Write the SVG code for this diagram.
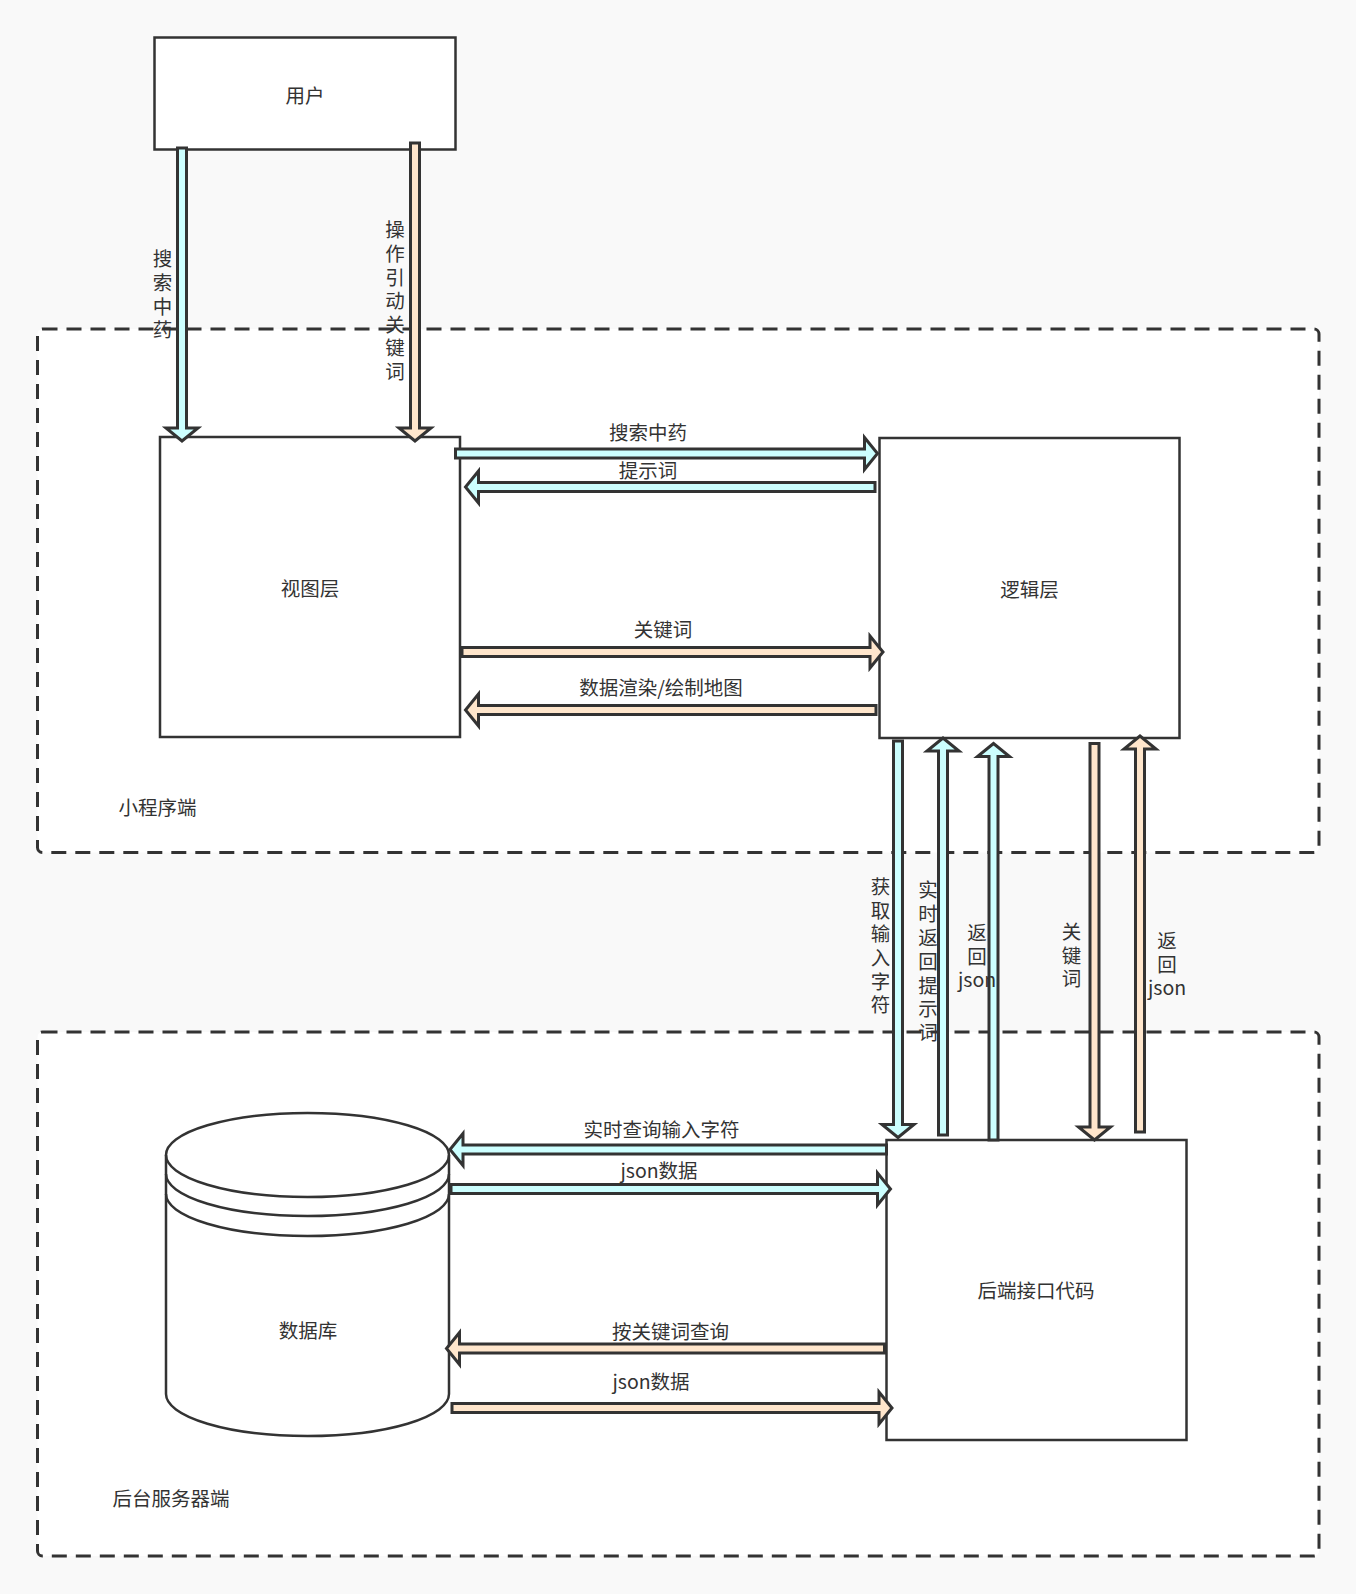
<svg xmlns="http://www.w3.org/2000/svg" width="1356" height="1594" viewBox="0 0 1356 1594">
<style>
text{font-family:"Noto Sans CJK SC","Noto Sans",sans-serif;font-size:19.5px;fill:#333;text-anchor:middle;dominant-baseline:central}
text.v{writing-mode:vertical-rl;text-orientation:upright;text-anchor:start;letter-spacing:4.1px}
.box{fill:#fff;stroke:#333;stroke-width:2.5}
.zone{fill:#fff;stroke:#333;stroke-width:3;stroke-dasharray:15 9}
.c{fill:#ccffff;stroke:#333;stroke-width:3;stroke-linejoin:miter}
.p{fill:#ffe6cc;stroke:#333;stroke-width:3;stroke-linejoin:miter}
</style>
<rect width="1356" height="1594" fill="#f9f9f9"/>
<g id="zone-miniprogram">
<rect class="zone" x="37.5" y="329" width="1281.5" height="523.5" rx="5"/>
<text x="157.5" y="806.5">小程序端</text>
</g>
<g id="zone-server">
<rect class="zone" x="37.5" y="1032" width="1281.5" height="524" rx="5"/>
<text x="171" y="1497.5">后台服务器端</text>
</g>
<g id="node-user">
<rect class="box" x="154.5" y="37.5" width="301" height="112"/>
<text x="305" y="94">用户</text>
</g>
<g id="node-view">
<rect class="box" x="160" y="437" width="300" height="300"/>
<text x="310" y="587">视图层</text>
</g>
<g id="node-logic">
<rect class="box" x="879.5" y="438" width="300" height="300"/>
<text x="1029.5" y="588">逻辑层</text>
</g>
<g id="node-backend">
<rect class="box" x="886.5" y="1140" width="300" height="300"/>
<text x="1036" y="1289.5">后端接口代码</text>
</g>
<g id="node-database">
<path class="box" d="M166,1155 L166,1394 A141.5,42 0 0 0 449,1394 L449,1155 A141.5,42 0 0 0 166,1155 Z"/>
<path fill="none" stroke="#333" stroke-width="2.5" d="M166,1155 A141.5,42 0 0 0 449,1155 M166,1174 A141.5,42 0 0 0 449,1174 M166,1194 A141.5,42 0 0 0 449,1194"/>
<text x="308" y="1329">数据库</text>
</g>
<g id="connectors">
<polygon class="c" points="177.5,148 186.5,148 186.5,428 198,428 182,441 166,428 177.5,428"/>
<polygon class="p" points="410.5,143 419.5,143 419.5,428 431,428 415,441 399,428 410.5,428"/>
<polygon class="c" points="455.5,449 864.5,449 864.5,437.5 877.5,453.5 864.5,469.5 864.5,458 455.5,458"/>
<polygon class="c" points="875,482.5 478.5,482.5 478.5,471 465.5,487 478.5,503 478.5,491.5 875,491.5"/>
<polygon class="p" points="462,647.5 870,647.5 870,636 883,652 870,668 870,656.5 462,656.5"/>
<polygon class="p" points="876,705.5 478.5,705.5 478.5,694 465.5,710 478.5,726 478.5,714.5 876,714.5"/>
<polygon class="c" points="893.5,741 902.5,741 902.5,1124.5 914,1124.5 898,1137.5 882,1124.5 893.5,1124.5"/>
<polygon class="c" points="938.5,1135 947.5,1135 947.5,751 959,751 943,738 927,751 938.5,751"/>
<polygon class="c" points="989,1140 998,1140 998,756.5 1009.5,756.5 993.5,743.5 977.5,756.5 989,756.5"/>
<polygon class="p" points="1090,743.5 1099,743.5 1099,1127 1110.5,1127 1094.5,1140 1078.5,1127 1090,1127"/>
<polygon class="p" points="1135.5,1132 1144.5,1132 1144.5,749 1156,749 1140,736 1124,749 1135.5,749"/>
<polygon class="c" points="886.5,1145 463,1145 463,1133.5 450,1149.5 463,1165.5 463,1154 886.5,1154"/>
<polygon class="c" points="451,1184.5 877.5,1184.5 877.5,1173 890.5,1189 877.5,1205 877.5,1193.5 451,1193.5"/>
<polygon class="p" points="884.5,1344 459.5,1344 459.5,1332.5 446.5,1348.5 459.5,1364.5 459.5,1353 884.5,1353"/>
<polygon class="p" points="452,1403.5 879,1403.5 879,1392 892,1408 879,1424 879,1412.5 452,1412.5"/>
<text class="v" x="162.5" y="249.25">搜索中药</text>
<text class="v" x="395" y="220.25">操作引动关键词</text>
<text x="648" y="431">搜索中药</text>
<text x="648" y="469.5">提示词</text>
<text x="663" y="628">关键词</text>
<text x="661" y="686.5">数据渲染/绘制地图</text>
<text class="v" x="880.5" y="877">获取输入字符</text>
<text class="v" x="928" y="880.25" style="letter-spacing:4.3px">实时返回提示词</text>
<text class="v" x="977" y="922.75">返回</text>
<text x="977" y="978">json</text>
<text class="v" x="1071.5" y="921.75">关键词</text>
<text class="v" x="1167" y="931.25">返回</text>
<text x="1167" y="986.5">json</text>
<text x="661.5" y="1128">实时查询输入字符</text>
<text x="659" y="1169.5">json数据</text>
<text x="670.5" y="1330.5">按关键词查询</text>
<text x="651" y="1380.5">json数据</text>
</g>
</svg>
